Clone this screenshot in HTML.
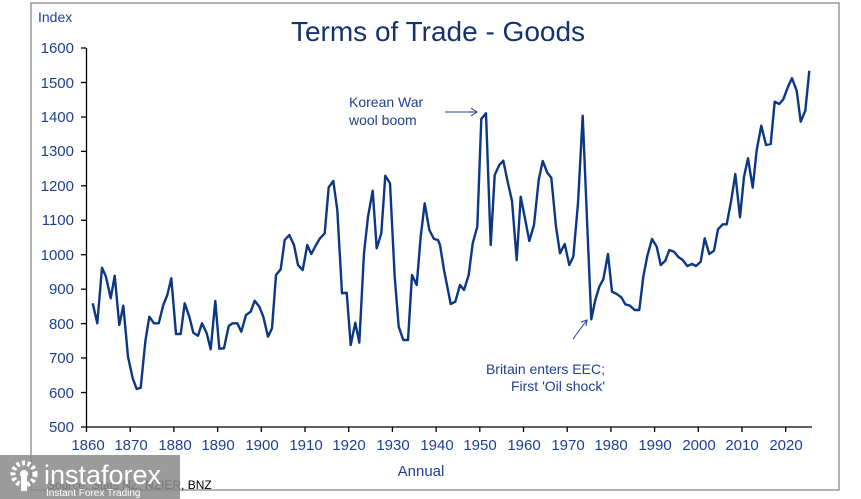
<!DOCTYPE html>
<html><head><meta charset="utf-8"><style>
body{margin:0;background:#fff;}
svg{display:block;font-family:"Liberation Sans",Arial,sans-serif;}
</style></head><body>
<svg width="861" height="499" viewBox="0 0 861 499" xmlns="http://www.w3.org/2000/svg">
<rect x="31" y="3" width="808" height="487" fill="#fff" stroke="#7f7f7f" stroke-width="1.2"/>
<text x="438" y="41" text-anchor="middle" font-size="28" fill="#14336e">Terms of Trade - Goods</text>
<text x="38" y="22" font-size="14" fill="#1f3f8f">Index</text>
<g stroke="#000" stroke-width="1.3">
<line x1="86.5" y1="48" x2="86.5" y2="427"/>
<line x1="86" y1="427" x2="812" y2="427"/>
<line x1="81" y1="48" x2="86" y2="48"/><line x1="81" y1="82.5" x2="86" y2="82.5"/><line x1="81" y1="117" x2="86" y2="117"/><line x1="81" y1="151.4" x2="86" y2="151.4"/><line x1="81" y1="185.8" x2="86" y2="185.8"/><line x1="81" y1="220.3" x2="86" y2="220.3"/><line x1="81" y1="254.7" x2="86" y2="254.7"/><line x1="81" y1="289.2" x2="86" y2="289.2"/><line x1="81" y1="323.6" x2="86" y2="323.6"/><line x1="81" y1="358" x2="86" y2="358"/><line x1="81" y1="392.5" x2="86" y2="392.5"/><line x1="81" y1="427" x2="86" y2="427"/>
<line x1="86.5" y1="427" x2="86.5" y2="432"/><line x1="130.2" y1="427" x2="130.2" y2="432"/><line x1="173.9" y1="427" x2="173.9" y2="432"/><line x1="217.6" y1="427" x2="217.6" y2="432"/><line x1="261.3" y1="427" x2="261.3" y2="432"/><line x1="305" y1="427" x2="305" y2="432"/><line x1="348.7" y1="427" x2="348.7" y2="432"/><line x1="392.4" y1="427" x2="392.4" y2="432"/><line x1="436.1" y1="427" x2="436.1" y2="432"/><line x1="479.8" y1="427" x2="479.8" y2="432"/><line x1="523.5" y1="427" x2="523.5" y2="432"/><line x1="567.2" y1="427" x2="567.2" y2="432"/><line x1="610.9" y1="427" x2="610.9" y2="432"/><line x1="654.6" y1="427" x2="654.6" y2="432"/><line x1="698.3" y1="427" x2="698.3" y2="432"/><line x1="742" y1="427" x2="742" y2="432"/><line x1="785.7" y1="427" x2="785.7" y2="432"/>
</g>
<g font-size="15" fill="#1f3f8f" text-anchor="end">
<text x="74" y="53">1600</text><text x="74" y="88">1500</text><text x="74" y="122">1400</text><text x="74" y="156">1300</text><text x="74" y="191">1200</text><text x="74" y="225">1100</text><text x="74" y="260">1000</text><text x="74" y="294">900</text><text x="74" y="329">800</text><text x="74" y="363">700</text><text x="74" y="398">600</text><text x="74" y="432">500</text>
</g>
<g font-size="15" fill="#1f3f8f" text-anchor="middle">
<text x="88" y="450">1860</text><text x="131" y="450">1870</text><text x="175" y="450">1880</text><text x="218" y="450">1890</text><text x="262" y="450">1900</text><text x="306" y="450">1910</text><text x="349" y="450">1920</text><text x="393" y="450">1930</text><text x="437" y="450">1940</text><text x="480" y="450">1950</text><text x="524" y="450">1960</text><text x="568" y="450">1970</text><text x="611" y="450">1980</text><text x="655" y="450">1990</text><text x="699" y="450">2000</text><text x="742" y="450">2010</text><text x="786" y="450">2020</text>
</g>
<text x="421" y="476" text-anchor="middle" font-size="15" fill="#1f3f8f">Annual</text>
<polyline fill="none" stroke="#0b3784" stroke-width="2.4" stroke-linejoin="round" points="92.7,303.3 97.3,323.3 102,267.7 106,276.7 110.7,298.3 114.7,275.7 119.3,325 123.3,305.7 128,356.7 132.7,378.3 136.7,389 140.7,387.7 145.3,341.7 149.3,316.7 154,323.3 158.7,323.3 163.3,305 167.3,295 171.3,278.3 176,334 180.7,334 184.7,303.3 189.3,316.7 193.3,332.7 198,335.7 202,323.3 206.7,333.3 210.7,349.3 215.3,301 219.3,348.7 224,348.3 228.7,326 232.7,323.3 237.3,323.3 241.3,331.7 246,315 250.7,311.7 254.7,300.7 259.3,306.7 263.3,316.7 268,336.7 272,328.3 276,275 280.7,269.3 284.7,240 289.3,235 294,245 298,265 302.7,270 307.3,245 311.3,254 316,245 320,238.3 324.7,233.3 328.7,187.3 333.3,181 337.3,210 342,293.3 346.7,292.7 350.7,345 355.3,322.7 359.3,342.7 364,253.3 368,216.7 372.7,190.7 376.7,248.3 381.3,233.3 385.3,175.7 390,183.3 394.7,276.7 398.7,326.7 403.3,340 408,340 412,275 416.7,285 420.7,236.7 424.7,203.3 429.3,230 434,239 438,240 440,245 444,270 450.7,304 455.3,301.7 460,285 464,290 468.7,275 472.7,243.3 477.3,226.7 481.3,119 486,113.3 490.7,245 494.7,175 499.3,165 503.3,160.7 508,183.3 512,201 516.7,260 520.7,196.7 525.3,220 529.3,241 534,225 538.7,180 542.7,161 547.3,172.7 551.3,177.7 556,226.7 560,253.3 564.7,244 569.3,265 573.3,256.7 578,203.3 582.7,115.7 587.3,226.7 591.3,319.3 595.3,300 599.3,286.7 603.3,279.3 608,254 612,291.7 616.7,294 621.3,297.3 625.3,304.3 630,305.7 634.7,310 639.3,310 643.3,276.7 647.3,256 652,239 656.7,246.7 660.7,265 665.3,260.7 669.3,250 674,251.7 678.7,257.3 682.7,260 687.3,266 692,264 696,266 700.7,261.7 704.7,238.3 709.3,254 714,250.7 718,229.3 722.7,224.3 726.7,224.3 731.3,200 735.3,174 740,217.3 744,176.7 748,158.3 752.7,187.7 756.7,150 761.3,125.7 766,145 770.7,144 774.7,101.7 779.3,104 783.3,99.3 788,86.7 792,78.3 796.7,90.7 800.7,121.7 805.3,110.7 809.3,70.7"/>
<g font-size="14" fill="#1f3f8f">
<text x="349" y="107">Korean War</text><text x="349" y="125">wool boom</text>
<text x="605" y="374" text-anchor="end">Britain enters EEC;</text><text x="605" y="391" text-anchor="end">First 'Oil shock'</text>
</g>
<g stroke="#1f3f8f" stroke-width="1" fill="none">
<line x1="445" y1="112" x2="477" y2="112"/><polyline points="471,108 477,112 471,116"/>
<line x1="573" y1="339" x2="587" y2="320"/><polyline points="581,322 587,320 586,326"/>
</g>
<text x="47" y="489" font-size="12" fill="#000">Source: Stats NZ, NZIER, BNZ</text>
<rect x="0" y="455" width="180" height="44" fill="#8a8a8a" opacity="0.85"/>
<g fill="#fff">
<circle cx="24" cy="474" r="11" fill="none" stroke="#fff" stroke-width="5" stroke-dasharray="3 2.5"/>
<circle cx="24" cy="474" r="4"/>
<rect x="21" y="477" width="6" height="14"/>
<text x="44" y="484" font-size="27">instaforex</text>
<text x="46" y="496" font-size="10">Instant Forex Trading</text>
</g>
</svg>
</body></html>
